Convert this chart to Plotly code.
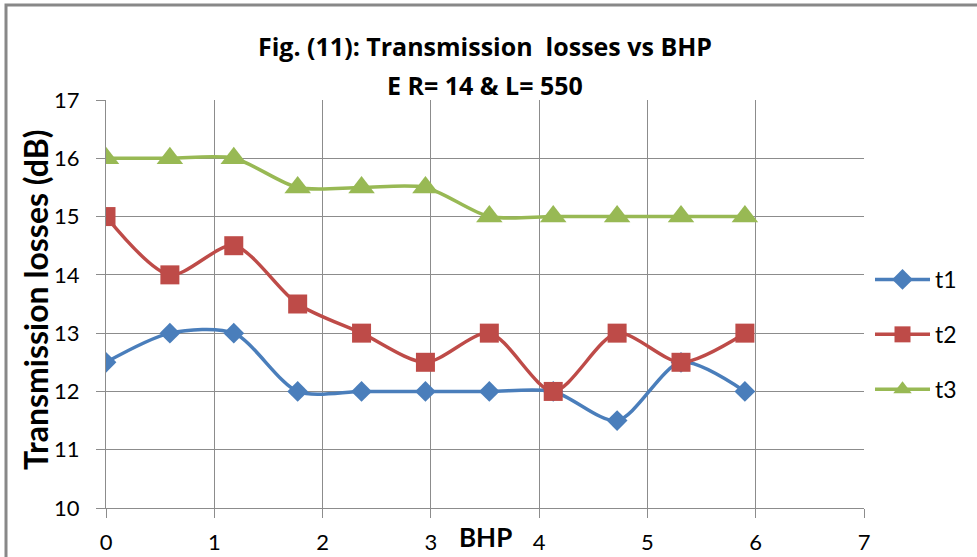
import plotly.graph_objects as go

bhp = [0, 0.59, 1.18, 1.77, 2.36, 2.95, 3.54, 4.13, 4.72, 5.31, 5.9]
t1 = [12.5, 13, 13, 12, 12, 12, 12, 12, 11.5, 12.5, 12]
t2 = [15, 14, 14.5, 13.5, 13, 12.5, 13, 12, 13, 12.5, 13]
t3 = [16, 16, 16, 15.5, 15.5, 15.5, 15, 15, 15, 15, 15]

W, H = 977, 557
L, R, T, B = 106, 864, 100, 508
pw, ph = R - L, B - T

def px(x):
    return (x - L) / pw

def py(y):
    return (B - y) / ph

FONT = "Lato, Calibri, 'Open Sans', sans-serif"
TFONT = "'Open Sans', Lato, sans-serif"

fig = go.Figure()
series = [
    ("t1", t1, "#4A7EBB", "diamond", 16),
    ("t2", t2, "#BE4B48", "square", 19),
    ("t3", t3, "#98B954", "triangle-up", 23),
]
for name, ys, col, sym, sz in series:
    fig.add_trace(go.Scatter(
        x=bhp, y=ys, name=name, mode="lines+markers",
        line=dict(color=col, width=3.5, shape="spline", smoothing=0.8),
        marker=dict(symbol=sym, size=sz, color=col),
        legendgroup=name,
    ))

grid = "#8c8c8c"
fig.update_xaxes(range=[0, 7], dtick=1, showgrid=True, gridcolor=grid, gridwidth=1,
                 showline=True, linecolor=grid, linewidth=1, ticks="outside",
                 ticklen=9, tickcolor=grid, zeroline=False, ticklabelstandoff=6,
                 automargin=False,
                 tickfont=dict(size=22, color="#000", family=FONT))
fig.update_yaxes(range=[10, 17], dtick=1, showgrid=True, gridcolor=grid, gridwidth=1,
                 showline=True, linecolor=grid, linewidth=1, ticks="outside",
                 ticklen=9, tickcolor=grid, zeroline=False, ticklabelstandoff=12,
                 automargin=False,
                 tickfont=dict(size=22, color="#000", family=FONT))

fig.update_layout(
    width=W, height=H,
    margin=dict(l=L, r=W - R, t=T, b=H - B, autoexpand=False),
    plot_bgcolor="white", paper_bgcolor="white",
    font=dict(family=FONT, color="#000"),
    showlegend=True,
    legend=dict(x=px(870), y=py(258), xanchor="left", yanchor="top",
                font=dict(size=23, family=FONT), tracegroupgap=22,
                itemwidth=55, bgcolor="rgba(0,0,0,0)"),
    annotations=[
        dict(text="<b>Fig. (11): Transmission&nbsp; losses vs BHP</b>", x=px(485), y=py(46),
             xref="paper", yref="paper", showarrow=False, font=dict(size=25, family=TFONT),
             xanchor="center", yanchor="middle"),
        dict(text="<b>E R= 14 & L= 550</b>", x=px(485), y=py(85),
             xref="paper", yref="paper", showarrow=False, font=dict(size=25, family=TFONT),
             xanchor="center", yanchor="middle"),
        dict(text="<b>Transmission losses (dB)</b>", x=px(35), y=py(300), textangle=-90,
             xref="paper", yref="paper", showarrow=False, font=dict(size=32, family=FONT),
             xanchor="center", yanchor="middle"),
        dict(text="<b>BHP</b>", x=px(485), y=py(537),
             xref="paper", yref="paper", showarrow=False, font=dict(size=26, family=FONT),
             xanchor="center", yanchor="middle"),
    ],
    shapes=[
        dict(type="rect", xref="paper", yref="paper", x0=px(6), x1=px(1200),
             y0=py(800), y1=py(5), line=dict(color="#888888", width=3), layer="below"),
    ],
)

fig.write_html("out.html", post_script="document.body.style.margin='0';",
               config={"displayModeBar": False})
